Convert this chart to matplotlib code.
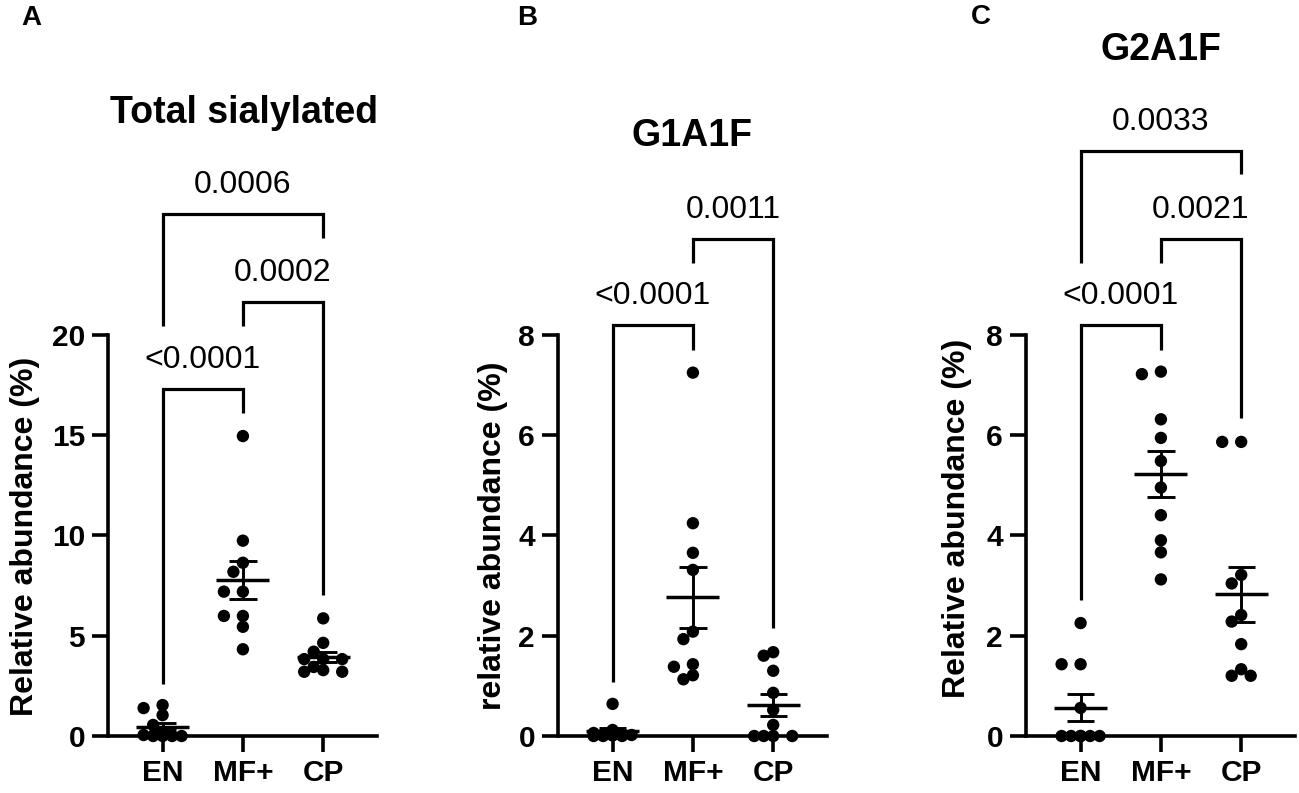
import numpy as np
import matplotlib
matplotlib.use("Agg")
import matplotlib.pyplot as plt

plt.rcParams['font.family'] = ['Liberation Sans', 'DejaVu Sans']

# ---------------- data ----------------
groups = ['EN', 'MF+', 'CP']

total_en = [1.54, 1.39, 1.04, 0.55, 0.15, 0.05, 0.0, 0.0, 0.0, 0.0]
total_mf = [14.94, 9.73, 8.63, 8.18, 7.19, 7.19, 5.98, 5.98, 5.44, 4.32]
total_cp = [5.86, 4.64, 4.20, 3.83, 3.83, 3.83, 3.44, 3.28, 3.20, 3.20]

g1_en = [0.64, 0.12, 0.06, 0.04, 0.03, 0.02, 0.01, 0.0, 0.0, 0.0]
g1_mf = [7.24, 4.24, 3.65, 3.31, 2.08, 1.93, 1.43, 1.38, 1.21, 1.13]
g1_cp = [1.67, 1.60, 1.30, 0.86, 0.52, 0.22, 0.0, 0.0, 0.0, 0.0]

g2_en = [2.25, 1.43, 1.43, 0.56, 0.0, 0.0, 0.0, 0.0, 0.0, 0.0]
g2_mf = [7.26, 7.21, 6.31, 5.94, 5.48, 4.95, 4.40, 3.90, 3.66, 3.12]
g2_cp = [5.86, 5.86, 3.21, 3.04, 2.41, 2.28, 1.83, 1.33, 1.20, 1.20]

titles = ['Total sialylated', 'G1A1F', 'G2A1F']
panel_letters = ['A', 'B', 'C']
ylabels = ['Relative abundance (%)', 'relative abundance (%)', 'Relative abundance (%)']
yticks_total = [0, 5, 10, 15, 20]
yticks_g = [0, 2, 4, 6, 8]

pvals_total = ['<0.0001', '0.0002', '0.0006']
pvals_g1 = ['<0.0001', '0.0011']
pvals_g2 = ['<0.0001', '0.0021', '0.0033']
pairs_total = [(0, 1), (1, 2), (0, 2)]
pairs_g1 = [(0, 1), (1, 2)]
pairs_g2 = [(0, 1), (1, 2), (0, 2)]

# ---------------- layout (pixels / data heights of brackets) ----------------
W, H = 1299, 793
# bracket geometry: (top, left-leg bottom, right-leg bottom)
br_total = [(17.3, 2.6, 16.1), (21.6, 20.4, 7.0), (26.0, 20.4, 24.8)]
br_g1 = [(8.18, 1.07, 7.7), (9.91, 9.43, 2.15)]
br_g2 = [(8.18, 2.7, 7.7), (9.91, 9.43, 6.33), (11.65, 9.43, 11.2)]

panels = [
    dict(data=[total_en, total_mf, total_cp], yt=yticks_total, pv=pvals_total,
         pairs=pairs_total, br=br_total, left=108, title_xy=(244, 123),
         letter_xy=(21, 25), ylab_xy=(25, 536)),
    dict(data=[g1_en, g1_mf, g1_cp], yt=yticks_g, pv=pvals_g1,
         pairs=pairs_g1, br=br_g1, left=558, title_xy=(692, 146),
         letter_xy=(517, 25), ylab_xy=(493, 536)),
    dict(data=[g2_en, g2_mf, g2_cp], yt=yticks_g, pv=pvals_g2,
         pairs=pairs_g2, br=br_g2, left=1026, title_xy=(1161, 60),
         letter_xy=(971, 24), ylab_xy=(957, 518)),
]

y0_px, ytop_tick_px, ax_top_px = 736.0, 334.5, 20.0
ax_w_px = 269.0
xlim = (-0.68, 2.67)

LW_AX = 2.6
LW_BR = 2.3
MS = 8.9  # marker size (points)


def swarm_offsets(ax, x0, vals, sp=9.5, thr=10.0, lim=26.0):
    vals = np.asarray(vals, dtype=float)
    pts = ax.transData.transform(np.column_stack([np.full(len(vals), x0), vals]))
    ypix = pts[:, 1]
    order = np.argsort(-vals, kind='stable')
    cands = [0.0]
    k = 1
    while k * sp <= lim:
        cands += [-k * sp, k * sp]
        k += 1
    placed = []
    dx = np.zeros(len(vals))
    for idx in order:
        y = ypix[idx]
        chosen = None
        best_c, best_d = 0.0, -1.0
        for c in cands:
            if placed:
                d = min(np.hypot(c - px, y - py) for px, py in placed)
            else:
                d = np.inf
            if d >= thr:
                chosen = c
                break
            if d > best_d:
                best_d, best_c = d, c
        if chosen is None:
            chosen = best_c
        placed.append((chosen, y))
        dx[idx] = chosen
    ppu = ax.transData.transform([(1, 0)])[0, 0] - ax.transData.transform([(0, 0)])[0, 0]
    return dx / ppu


fig = plt.figure(figsize=(W / 100, H / 100), dpi=100)

for pi, p in enumerate(panels):
    left = p['left']
    ax = fig.add_axes([left / W, 1 - y0_px / H, ax_w_px / W, (y0_px - ax_top_px) / H])
    ymaxtick = p['yt'][-1]
    ytop = ymaxtick * (y0_px - ax_top_px) / (y0_px - ytop_tick_px)
    ax.set_ylim(0, ytop)
    ax.set_xlim(*xlim)
    ax.patch.set_alpha(0)

    for s in ['top', 'right']:
        ax.spines[s].set_visible(False)
    ax.spines['left'].set_bounds(0, ymaxtick)
    for s in ['left', 'bottom']:
        ax.spines[s].set_linewidth(LW_AX)
        ax.spines[s].set_capstyle('projecting')

    ax.set_yticks(p['yt'])
    ax.set_yticklabels([str(v) for v in p['yt']], fontweight='bold')
    ax.set_xticks(range(len(groups)))
    ax.set_xticklabels(groups, fontweight='bold')
    ax.tick_params(axis='both', width=LW_AX, length=11.5, labelsize=21.5)
    ax.tick_params(axis='y', pad=5)
    ax.tick_params(axis='x', pad=5)

    # points, mean and SEM
    for gi, vals in enumerate(p['data']):
        v = np.asarray(vals, dtype=float)
        off = swarm_offsets(ax, gi, v)
        ax.scatter(gi + off, v, s=MS ** 2, color='black', edgecolors='none',
                   zorder=3, clip_on=False)
        m = v.mean()
        sem = v.std(ddof=1) / np.sqrt(len(v))
        ax.plot([gi - 0.33, gi + 0.33], [m, m], color='black', lw=2.5, zorder=4,
                solid_capstyle='butt', clip_on=False)
        ax.plot([gi, gi], [m - sem, m + sem], color='black', lw=2.1, zorder=4,
                solid_capstyle='butt', clip_on=False)
        for yy in (m - sem, m + sem):
            ax.plot([gi - 0.17, gi + 0.17], [yy, yy], color='black', lw=2.1,
                    zorder=4, solid_capstyle='butt', clip_on=False)

    # significance brackets
    for (i, j), (top, lb, rb), lab in zip(p['pairs'], p['br'], p['pv']):
        ax.plot([i, i, j, j], [lb, top, top, rb], color='black', lw=LW_BR,
                solid_joinstyle='miter', solid_capstyle='butt', clip_on=False)
        ax.annotate(lab, xy=((i + j) / 2, top), xytext=(0, 21 * 0.72),
                    textcoords='offset points', ha='center', va='baseline',
                    fontsize=23, fontweight='normal')

    # titles, letters, y label
    tx, ty = p['title_xy']
    fig.text(tx / W, 1 - ty / H, titles[pi], ha='center', va='baseline',
             fontsize=27, fontweight='bold')
    lx, ly = p['letter_xy']
    fig.text(lx / W, 1 - ly / H, panel_letters[pi], ha='left', va='baseline',
             fontsize=20, fontweight='bold')
    yx, yy = p['ylab_xy']
    fig.text(yx / W, 1 - yy / H, ylabels[pi], ha='center', va='center',
             rotation=90, fontsize=23, fontweight='bold')

fig.savefig('out.png', dpi=100)
